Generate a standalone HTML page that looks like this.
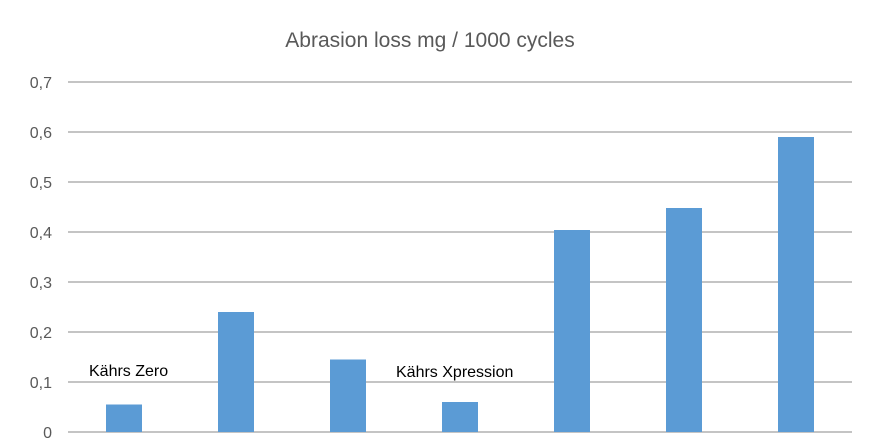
<!DOCTYPE html>
<html><head><meta charset="utf-8"><style>
html,body{margin:0;padding:0;background:#fff;}
svg{display:block;font-family:"Liberation Sans",sans-serif;}
</style></head><body>
<svg id="chart" width="879" height="440">
<text x="430" y="47" text-anchor="middle" font-size="21" fill="#595959">Abrasion loss mg / 1000 cycles</text>
<g id="grid"></g><g id="bars"></g>
<text x="89" y="376" font-size="16" fill="#000">Kährs Zero</text>
<text x="396" y="377" font-size="16" fill="#000">Kährs Xpression</text>
</svg>
<script>
const categories=["1","2","3","4","5","6","7"];
const values=[0.055,0.24,0.145,0.06,0.404,0.448,0.59];
const ticks=[0,0.1,0.2,0.3,0.4,0.5,0.6,0.7];
const tickLabels=["0","0,1","0,2","0,3","0,4","0,5","0,6","0,7"];
const NS="http://www.w3.org/2000/svg";
const x0=68,x1=852,yBase=432,yTop=82,vMax=0.7;
const y=v=>yBase-(v/vMax)*(yBase-yTop);
const band=(x1-x0)/categories.length;
const grid=document.getElementById('grid'),bars=document.getElementById('bars');
ticks.forEach((t,i)=>{
 const l=document.createElementNS(NS,'line');
 l.setAttribute('x1',x0);l.setAttribute('x2',x1);l.setAttribute('y1',y(t));l.setAttribute('y2',y(t));
 l.setAttribute('stroke','#c4c4c4');l.setAttribute('stroke-width','2');
 
 
 grid.appendChild(l);
 const tx=document.createElementNS(NS,'text');
 tx.setAttribute('x',52);tx.setAttribute('y',y(t)+6);tx.setAttribute('text-anchor','end');
 tx.setAttribute('font-size','16');tx.setAttribute('fill','#595959');tx.textContent=tickLabels[i];
 
 
 grid.appendChild(tx);
});
values.forEach((v,i)=>{
 const r=document.createElementNS(NS,'rect');
 const cx=x0+band*(i+0.5);
 r.setAttribute('x',cx-18);r.setAttribute('width',36);
 r.setAttribute('y',y(v));r.setAttribute('height',yBase-y(v));
 r.setAttribute('fill','#5b9bd5');
 
 
 bars.appendChild(r);
});
</script>
</body></html>
